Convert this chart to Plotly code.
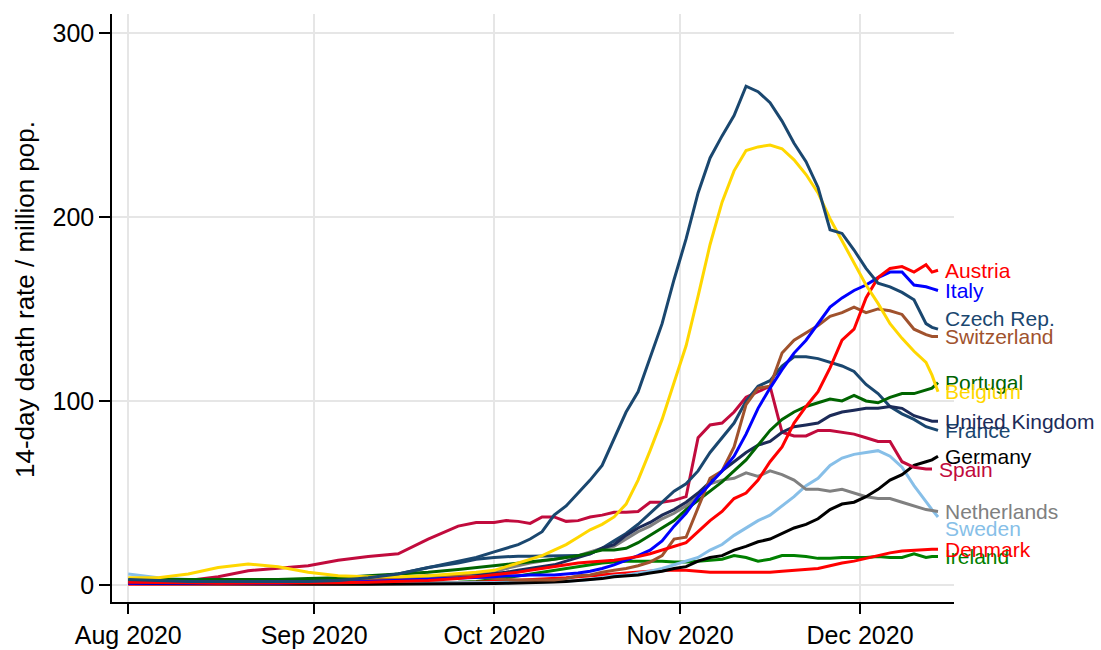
import plotly.graph_objects as go

dates = [
    "2020-08-01", "2020-08-06", "2020-08-11", "2020-08-16", "2020-08-21", "2020-08-26",
    "2020-08-31", "2020-09-05", "2020-09-10", "2020-09-15", "2020-09-20", "2020-09-25",
    "2020-09-28",
    "2020-10-01", "2020-10-03", "2020-10-05", "2020-10-07", "2020-10-09", "2020-10-11",
    "2020-10-13", "2020-10-15", "2020-10-17", "2020-10-19", "2020-10-21", "2020-10-23",
    "2020-10-25", "2020-10-27", "2020-10-29", "2020-10-31",
    "2020-11-02", "2020-11-04", "2020-11-06", "2020-11-08", "2020-11-10", "2020-11-12",
    "2020-11-14", "2020-11-16", "2020-11-18", "2020-11-20", "2020-11-22", "2020-11-24",
    "2020-11-26", "2020-11-28", "2020-11-30",
    "2020-12-02", "2020-12-04", "2020-12-06", "2020-12-08", "2020-12-10", "2020-12-12",
    "2020-12-13", "2020-12-14",
]

# 14-day death rate per million population
austria = [1.5, 1.5, 1.2, 1, 1, 1, 1, 1.2, 1.5, 2, 2.5, 3.5, 4.5,
           5.5, 6.5, 7, 8, 9, 10, 11, 12, 12.5, 13, 13.5, 14.5, 15.5, 17, 19, 21,
           23, 29, 35, 40, 47, 50, 57, 67, 75, 88, 97, 105, 118, 133, 139,
           156, 167, 172, 173, 170, 174, 170, 171]
italy = [1, 1, 1, 1, 1, 1, 1.5, 1.5, 2, 2.5, 3, 3.5, 4,
         4.5, 5, 5, 5.5, 5.5, 5.5, 6, 6.5, 7.5, 9, 11, 13.5, 16, 19, 24, 32,
         39, 48, 55, 62, 70, 82, 96, 107, 117, 126, 133, 142, 151, 156, 160,
         163, 167, 170, 170, 163, 162, 161, 160]
czech = [3, 2.5, 2, 2, 2, 2, 2, 2.5, 4, 6, 9.5, 13, 15,
         18, 20, 22, 25, 29, 38, 43, 50, 57, 65, 80, 94, 105, 123, 142, 166,
         188, 213, 232, 244, 255, 271, 268, 262, 252, 240, 230, 216, 193, 191, 182,
         172, 164, 162, 159, 155, 142, 140, 139]
switzerland = [1.5, 1.5, 1.5, 1.5, 1.5, 1.5, 2, 2, 2.5, 4, 5, 5.4, 4.5,
               3.5, 3, 2.7, 2.7, 2.7, 2.7, 3.5, 5, 5.5, 7, 8, 9, 10.5, 12.5, 16, 25,
               26, 42, 58, 62, 75, 98, 107, 108, 126, 133, 137, 141, 146, 148, 151,
               148, 150, 149, 147, 139, 136, 135, 135]
portugal = [3, 3, 3, 3, 3, 3, 3.5, 4, 5, 6, 7, 8.5, 9.5,
            10.5, 11.5, 12, 12.5, 13.5, 14, 15, 16, 17.5, 19, 19, 20, 23, 27, 31, 35,
            41, 46, 51, 56, 62, 68, 76, 84, 90, 94, 97, 99, 101, 100, 103,
            100, 99, 102, 104, 104, 106, 107, 110]
belgium = [4, 4, 6, 9.5, 11.4, 10, 7, 5, 4.5, 4.5, 5, 6, 7,
           8, 10, 12, 14, 16, 19, 22, 26, 30, 33, 37, 44, 57, 73, 90, 110,
           130, 157, 185, 208, 225, 236, 238, 239, 237, 231, 223, 213, 199, 187, 175,
           163, 153, 142, 134, 127, 121, 114, 105]
uk = [3, 2.5, 2.5, 2.5, 2, 2, 2, 2, 2, 2.5, 3, 4, 5,
      6, 7, 8, 9, 10, 11, 13, 15, 17, 20, 22, 27, 31, 34, 38, 41,
      45, 50, 56, 62, 67, 72, 76, 78, 83, 86, 87, 88, 92, 94, 95,
      96, 96, 97, 96, 92, 90, 89, 89]
france = [2, 1.5, 1.5, 1.5, 2, 2, 3, 3.5, 4, 6, 9.5, 12, 14,
          15, 15.5, 15.7, 15.7, 15.7, 15.7, 15.8, 16, 17, 20, 24, 28, 33, 39, 45, 51,
          55, 62, 72, 80, 88, 100, 108, 111, 119, 124, 124, 123, 121, 119, 116,
          109, 104, 97, 93, 90, 86, 85, 84]
germany = [0.8, 0.7, 0.6, 0.5, 0.5, 0.5, 0.5, 0.5, 0.5, 0.5, 0.6, 0.7, 0.8,
           0.9, 1, 1.1, 1.2, 1.4, 1.6, 2, 2.5, 3, 3.5, 4.5, 5, 5.5, 6.5, 7.5, 9,
           10, 13, 15, 16, 19, 21, 23.5, 25, 28, 31, 33, 36, 41, 44, 45,
           48, 52, 57, 60, 65, 67, 68, 70]
spain = [1, 1.5, 2.5, 4.5, 7.8, 9, 10.5, 13.5, 15.5, 17, 25, 32, 34,
         34, 35, 34.6, 33.5, 37, 37, 34.6, 35, 37, 38, 39.5, 39.5, 40, 45, 45, 46,
         48, 80, 87, 88, 94, 102, 105, 108, 83, 81, 81, 84, 84, 83, 82,
         80, 78, 78, 67, 64, 63, 63, None]
netherlands = [1, 1, 1, 1, 1, 1, 1.5, 2, 2.5, 3, 4, 5, 6,
               7.5, 9, 10.5, 12, 13, 14, 15, 16, 18, 20, 21, 25, 29, 32, 36, 39,
               43, 48, 55, 57, 58, 61, 59, 62, 60, 57, 52, 52, 51, 52, 50,
               48, 47, 47, 45, 43, 41, 40.5, 40]
sweden = [6, 4, 3, 2.5, 2, 1.5, 1.2, 1, 1, 1, 1, 1, 1,
          1, 1, 1.2, 1.4, 1.6, 1.8, 2, 2.5, 3, 4, 5, 5.5, 6.5, 7.5, 9, 11,
          13, 15, 19, 22, 27, 31, 35, 38, 43, 48, 54, 58, 65, 69, 71,
          72, 73, 70, 64, 54, 45, 41, 37]
denmark = [0.5, 0.5, 0.5, 0.5, 0.5, 0.5, 0.5, 0.5, 0.7, 1, 1, 1.2, 1.5,
           2, 2, 2.5, 3, 3, 3.5, 4, 4.5, 5, 5.5, 6, 6.5, 7, 7.5, 8, 8,
           8, 7.5, 7, 7, 7, 7, 7, 7, 7.5, 8, 8.5, 9, 10.5, 12, 13,
           14.5, 16, 17.5, 18.5, 19, 19.5, 19.5, 19.5]
ireland = [1, 1, 1, 0.8, 0.8, 0.8, 0.8, 1, 1, 1, 1.2, 1.5, 2,
           3, 4, 5, 6, 7, 8, 9, 10, 11, 12, 12.5, 13, 13, 13, 13, 12.5,
           12.5, 13, 13.5, 14, 16, 15, 13, 14, 16, 16, 15.5, 14.5, 14.5, 15, 15,
           15, 15.5, 15, 15, 17, 15, 15.5, 15.5]

countries = ["Ireland", "Denmark", "Sweden", "Netherlands", "Germany", "Spain",
             "France", "United Kingdom", "Portugal", "Switzerland", "Italy",
             "Austria", "Belgium", "Czech Rep."]
series = {
    "Austria": austria, "Italy": italy, "Czech Rep.": czech,
    "Switzerland": switzerland, "Portugal": portugal, "Belgium": belgium,
    "United Kingdom": uk, "France": france, "Germany": germany, "Spain": spain,
    "Netherlands": netherlands, "Sweden": sweden, "Denmark": denmark,
    "Ireland": ireland,
}
colors = {
    "Austria": "#ff0000", "Italy": "#0000ff", "Czech Rep.": "#1a476f",
    "Switzerland": "#a0522d", "Portugal": "#006400", "Belgium": "#ffd700",
    "United Kingdom": "#1c2b58", "France": "#1a476f", "Germany": "#000000",
    "Spain": "#c10b3d", "Netherlands": "#808080", "Sweden": "#87bfe8",
    "Denmark": "#ff0000", "Ireland": "#008000",
}
# vertical nudges (px) of end labels to avoid overlaps
label_shift = {"Czech Rep.": 11, "Sweden": -12}

tick_dates = ["2020-08-01", "2020-09-01", "2020-10-01", "2020-11-01", "2020-12-01"]
tick_labels = ["Aug 2020", "Sep 2020", "Oct 2020", "Nov 2020", "Dec 2020"]
y_ticks = [0, 100, 200, 300]

FONT = "Liberation Sans, Arial, Helvetica, sans-serif"

fig = go.Figure()
annotations = []
for c in countries:
    vals = series[c]
    fig.add_trace(go.Scatter(
        x=dates, y=vals, mode="lines", name=c,
        line=dict(color=colors[c], width=3),
        connectgaps=False, showlegend=False,
    ))
    last = max(i for i, v in enumerate(vals) if v is not None)
    annotations.append(dict(
        x=dates[last], y=vals[last], xref="x", yref="y",
        text=c, showarrow=False, xanchor="left", yanchor="middle",
        xshift=5, yshift=label_shift.get(c, 0),
        font=dict(family=FONT, size=21, color=colors[c]),
    ))

annotations.append(dict(
    text="14-day death rate / million pop.", xref="paper", yref="paper",
    x=-0.1033, y=0.5136, xanchor="center", yanchor="middle", textangle=-90,
    showarrow=False, font=dict(family=FONT, size=26, color="#000000"),
))

fig.update_layout(
    width=1101, height=650, autosize=False,
    margin=dict(l=112, r=147, t=14, b=48),
    paper_bgcolor="white", plot_bgcolor="white",
    font=dict(family=FONT, color="#000000"),
    annotations=annotations,
    xaxis=dict(
        type="date", range=["2020-07-29 07:00", "2020-12-16 16:00"],
        tickvals=tick_dates, ticktext=tick_labels, automargin=False,
        ticks="outside", ticklen=10, tickwidth=1.5, tickcolor="#000000",
        showline=True, linecolor="#000000", linewidth=1.5,
        showgrid=True, gridcolor="#e6e6e6", gridwidth=2, zeroline=False,
        tickfont=dict(family=FONT, size=25, color="#000000"),
    ),
    yaxis=dict(
        range=[-9.2, 310.2], tickvals=y_ticks, automargin=False,
        ticks="outside", ticklen=11, tickwidth=1.5, tickcolor="#000000",
        showline=True, linecolor="#000000", linewidth=1.5,
        showgrid=True, gridcolor="#e6e6e6", gridwidth=2, zeroline=False,
        tickfont=dict(family=FONT, size=25, color="#000000"),
    ),
)

fig.write_html(
    "out.html",
    config={"displayModeBar": False},
    post_script="document.body.style.margin='0px';document.body.style.padding='0px';",
)
